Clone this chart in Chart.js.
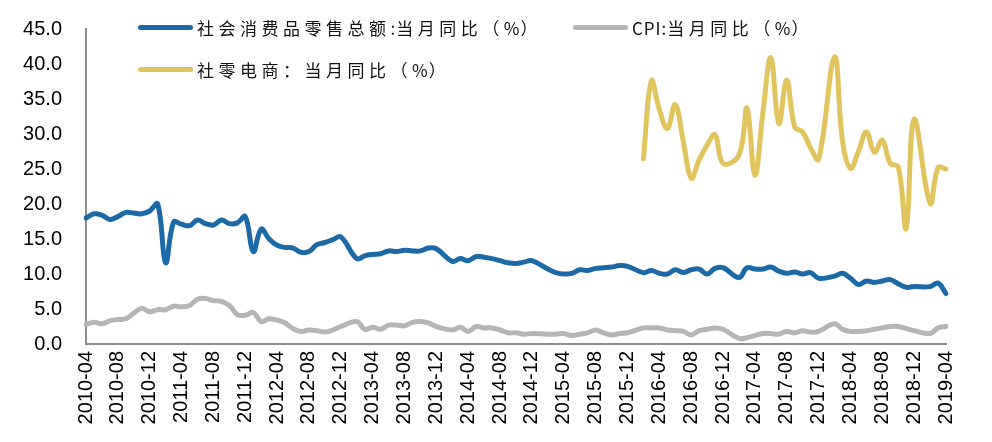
<!DOCTYPE html>
<html>
<head>
<meta charset="utf-8">
<script src="https://cdn.jsdelivr.net/npm/chart.js@4.4.1/dist/chart.umd.min.js"></script>
<style>
    html, body { margin: 0; padding: 0; background: #fff; }
    #wrap { position: relative; width: 992px; height: 442px; }
    #chart { position: absolute; left: 0; top: 0; }
    .legend-item { position: absolute; display: flex; align-items: center; height: 24px; }
    .legend-line { width: 55px; height: 5px; border-radius: 3px; margin-right: 4px; }
    .legend-text { font-family: 'Noto Sans CJK SC', sans-serif; font-size: 17px; letter-spacing: 4.5px; color: #111; white-space: nowrap; }
    .legend-text .latin { letter-spacing: 1px; }
</style>
</head>
<body>
<div id="wrap">
    <canvas id="chart" width="992" height="442"></canvas>
</div>
<script>
// 月份（2010-04 ~ 2019-04）
const months = [
    '2010-04', '2010-05', '2010-06', '2010-07', '2010-08', '2010-09', '2010-10', '2010-11', '2010-12',
    '2011-01', '2011-02', '2011-03', '2011-04', '2011-05', '2011-06', '2011-07', '2011-08', '2011-09', '2011-10', '2011-11', '2011-12',
    '2012-01', '2012-02', '2012-03', '2012-04', '2012-05', '2012-06', '2012-07', '2012-08', '2012-09', '2012-10', '2012-11', '2012-12',
    '2013-01', '2013-02', '2013-03', '2013-04', '2013-05', '2013-06', '2013-07', '2013-08', '2013-09', '2013-10', '2013-11', '2013-12',
    '2014-01', '2014-02', '2014-03', '2014-04', '2014-05', '2014-06', '2014-07', '2014-08', '2014-09', '2014-10', '2014-11', '2014-12',
    '2015-01', '2015-02', '2015-03', '2015-04', '2015-05', '2015-06', '2015-07', '2015-08', '2015-09', '2015-10', '2015-11', '2015-12',
    '2016-01', '2016-02', '2016-03', '2016-04', '2016-05', '2016-06', '2016-07', '2016-08', '2016-09', '2016-10', '2016-11', '2016-12',
    '2017-01', '2017-02', '2017-03', '2017-04', '2017-05', '2017-06', '2017-07', '2017-08', '2017-09', '2017-10', '2017-11', '2017-12',
    '2018-01', '2018-02', '2018-03', '2018-04', '2018-05', '2018-06', '2018-07', '2018-08', '2018-09', '2018-10', '2018-11', '2018-12',
    '2019-01', '2019-02', '2019-03', '2019-04'
];

// 社会消费品零售总额:当月同比（%）
const retailYoY = [
    18.0, 18.6, 18.4, 17.8, 18.2, 18.8, 18.7, 18.6, 19.0,
    20.0, 11.6, 17.4, 17.1, 16.9, 17.7, 17.2, 17.0, 17.7, 17.2, 17.3, 18.2,
    13.2, 16.4, 15.0, 14.1, 13.8, 13.7, 13.1, 13.2, 14.2, 14.5, 14.9, 15.3,
    null, 12.2, 12.6, 12.8, 12.9, 13.3, 13.2, 13.4, 13.3, 13.3, 13.7, 13.6,
    null, 11.8, 12.2, 11.9, 12.5, 12.4, 12.2, 11.9, 11.6, 11.5, 11.7, 11.9,
    null, 10.7, 10.2, 10.0, 10.1, 10.6, 10.5, 10.8, 10.9, 11.0, 11.2, 11.1,
    null, 10.2, 10.5, 10.1, 10.0, 10.6, 10.2, 10.6, 10.7, 10.0, 10.8, 10.9,
    null, 9.5, 10.9, 10.7, 10.7, 11.0, 10.4, 10.1, 10.3, 10.0, 10.2, 9.4,
    null, 9.7, 10.1, 9.4, 8.5, 9.0, 8.8, 9.0, 9.2, 8.6, 8.1, 8.2,
    null, 8.2, 8.7, 7.2
];

// CPI:当月同比（%）
const cpiYoY = [
    2.8, 3.1, 2.9, 3.3, 3.5, 3.6, 4.4, 5.1, 4.6,
    4.9, 4.9, 5.4, 5.3, 5.5, 6.4, 6.5, 6.2, 6.1, 5.5, 4.2, 4.1,
    4.5, 3.2, 3.6, 3.4, 3.0, 2.2, 1.8, 2.0, 1.9, 1.7, 2.0, 2.5,
    null, 3.2, 2.1, 2.4, 2.1, 2.7, 2.7, 2.6, 3.1, 3.2, 3.0, 2.5,
    null, 2.0, 2.4, 1.8, 2.5, 2.3, 2.3, 2.0, 1.6, 1.6, 1.4, 1.5,
    null, 1.4, 1.4, 1.5, 1.2, 1.4, 1.6, 2.0, 1.6, 1.3, 1.5, 1.6,
    null, 2.3, 2.3, 2.3, 2.0, 1.9, 1.8, 1.3, 1.9, 2.1, 2.3, 2.1,
    null, 0.8, 0.9, 1.2, 1.5, 1.5, 1.4, 1.8, 1.6, 1.9, 1.7, 1.8,
    null, 2.9, 2.1, 1.8, 1.8, 1.9, 2.1, 2.3, 2.5, 2.5, 2.2, 1.9,
    null, 1.5, 2.3, 2.5
];

// 社零电商：当月同比（%），2016-02 起
const onlineYoY = [
    null, null, null, null, null, null, null, null, null,
    null, null, null, null, null, null, null, null, null, null, null, null,
    null, null, null, null, null, null, null, null, null, null, null, null,
    null, null, null, null, null, null, null, null, null, null, null, null,
    null, null, null, null, null, null, null, null, null, null, null, null,
    null, null, null, null, null, null, null, null, null, null, null, null,
    null, 26.5, 37.6, 33.5, 30.8, 34.2, 29.0, 23.7, 26.3, 28.4, 29.9, 25.8,
    null, 27.0, 33.7, 24.1, 33.0, 40.9, 31.5, 37.7, 31.0, 30.3, 28.0, 26.4,
    null, 41.0, 29.0, 25.1, 27.5, 30.3, 27.4, 29.1, 25.8, 25.3, 16.5, 32.1,
    null, 20.1, 25.2, 25.0
];

const yTicks = [0, 5, 10, 15, 20, 25, 30, 35, 40, 45];

const seriesNames = ['社会消费品零售总额:当月同比（%）', 'CPI:当月同比（%）', '社零电商：当月同比（%）'];
const seriesColors = ['#1b69a7', '#b5b5b5', '#e2c45e'];

// 图例位置（左上角）
const legendSpots = [
    { left: 138, top: 15 },
    { left: 573, top: 15 },
    { left: 138, top: 57 }
];

const tickFont = { family: "'Liberation Sans', Arial, sans-serif", size: 20 };
const axisColor = '#8c8c8c';

function makeDataset(label, data, color) {
    return {
        label: label,
        data: data,
        borderColor: color,
        backgroundColor: color,
        borderWidth: 5,
        pointRadius: 0,
        pointHoverRadius: 0,
        tension: 0.4,
        spanGaps: true,
        borderCapStyle: 'round',
        borderJoinStyle: 'round',
        fill: false
    };
}

// 英文字母单独包一层，字距收窄
function legendHtml(text) {
    return text.replace(/[A-Za-z:%]+/g, m => `<span class="latin">${m}</span>`);
}

function buildLegend(chart) {
    const wrap = document.getElementById('wrap');
    chart.data.datasets.forEach((ds, i) => {
        const item = document.createElement('div');
        item.className = 'legend-item';
        item.style.left = legendSpots[i].left + 'px';
        item.style.top = legendSpots[i].top + 'px';
        item.innerHTML = `<span class="legend-line" style="background:${ds.borderColor}"></span><span class="legend-text">${legendHtml(ds.label)}</span>`;
        wrap.appendChild(item);
    });
}

const ctx = document.getElementById('chart').getContext('2d');
const chart = new Chart(ctx, {
    type: 'line',
    data: {
        labels: months,
        datasets: [
            makeDataset(seriesNames[0], retailYoY, seriesColors[0]),
            makeDataset(seriesNames[1], cpiYoY, seriesColors[1]),
            makeDataset(seriesNames[2], onlineYoY, seriesColors[2])
        ]
    },
    options: {
        responsive: false,
        animation: false,
        layout: {
            padding: { top: 29, right: 46, bottom: 0, left: 0 }
        },
        plugins: {
            legend: { display: false },
            tooltip: { enabled: false }
        },
        scales: {
            x: {
                offset: false,
                grid: { display: false, drawTicks: false },
                border: { display: true, color: axisColor, width: 2 },
                ticks: {
                    autoSkip: false,
                    minRotation: 90,
                    maxRotation: 90,
                    padding: 7,
                    color: '#000',
                    font: tickFont,
                    callback: function(value, index) {
                        return index % 4 === 0 ? this.getLabelForValue(value) : null;
                    }
                },
                afterFit: scale => { scale.height = 98; }
            },
            y: {
                min: yTicks[0],
                max: yTicks[yTicks.length - 1],
                // 刻度线不画，只用 tickLength 把标签推到左边
                grid: { display: false, drawTicks: true, tickLength: 21 },
                border: { display: true, color: axisColor, width: 2 },
                ticks: {
                    stepSize: yTicks[1] - yTicks[0],
                    padding: 3,
                    color: '#000',
                    font: tickFont,
                    callback: value => value.toFixed(1)
                },
                afterFit: scale => { scale.width = 86; }
            }
        }
    }
});

buildLegend(chart);
</script>
</body>
</html>
